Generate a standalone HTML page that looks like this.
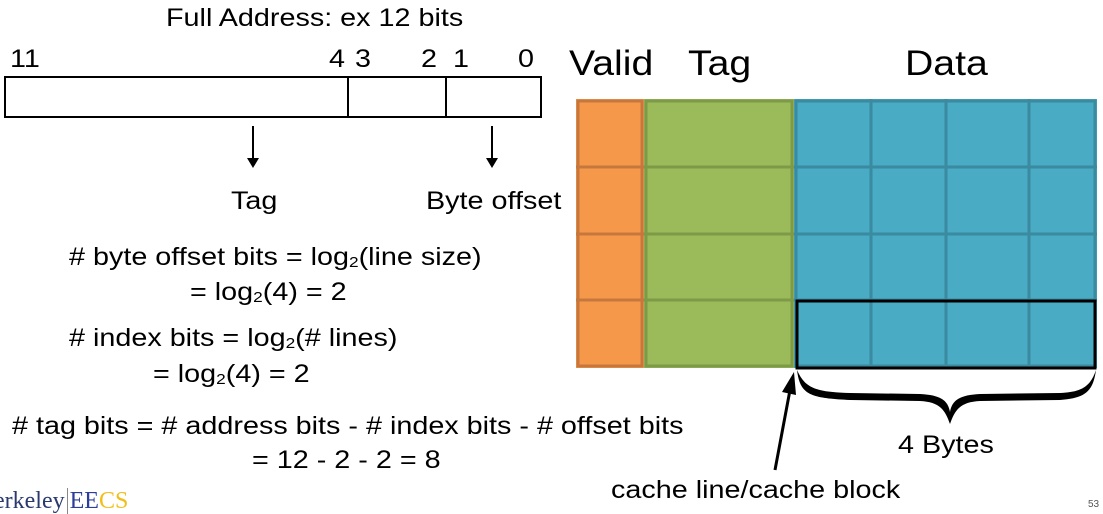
<!DOCTYPE html>
<html><head><meta charset="utf-8"><style>
body{margin:0;width:1103px;height:514px;background:#fff;position:relative;overflow:hidden;font-family:"Liberation Sans",sans-serif;color:#000}
.t{position:absolute;white-space:nowrap;font-size:25px;line-height:1;transform:scaleX(1.15);transform-origin:0 0}
sub{font-size:15px;vertical-align:-2px}
</style></head><body>
<svg width="1103" height="514" style="position:absolute;left:0;top:0">
<rect x="5" y="77" width="536" height="40" fill="none" stroke="#000" stroke-width="2"/>
<line x1="348" y1="77" x2="348" y2="117" stroke="#000" stroke-width="2"/>
<line x1="446" y1="77" x2="446" y2="117" stroke="#000" stroke-width="2"/>
<line x1="253" y1="126" x2="253" y2="160" stroke="#000" stroke-width="2"/>
<polygon points="247,158 259,158 253,168" fill="#000"/>
<line x1="492" y1="126" x2="492" y2="160" stroke="#000" stroke-width="2"/>
<polygon points="486,158 498,158 492,168" fill="#000"/>
<g stroke-width="3">
<rect x="576" y="99" width="68" height="269" fill="#f59849"/>
<rect x="644" y="99" width="150" height="269" fill="#9bba5a"/>
<rect x="794" y="99" width="303" height="269" fill="#4aabc5"/>
<g stroke="#c5773e"><rect x="578" y="101" width="64" height="265" fill="none"/>
<line x1="576" y1="167" x2="644" y2="167"/><line x1="576" y1="234" x2="644" y2="234"/><line x1="576" y1="300" x2="644" y2="300"/></g>
<g stroke="#7c9a47"><rect x="646" y="101" width="146" height="265" fill="none"/>
<line x1="644" y1="167" x2="794" y2="167"/><line x1="644" y1="234" x2="794" y2="234"/><line x1="644" y1="300" x2="794" y2="300"/></g>
<g stroke="#3a8aa0"><rect x="796" y="101" width="299" height="265" fill="none"/>
<line x1="794" y1="167" x2="1097" y2="167"/><line x1="794" y1="234" x2="1097" y2="234"/><line x1="794" y1="300" x2="1097" y2="300"/>
<line x1="871" y1="99" x2="871" y2="368"/><line x1="946" y1="99" x2="946" y2="368"/><line x1="1029" y1="99" x2="1029" y2="368"/></g>
<rect x="797" y="301" width="298" height="67" fill="none" stroke="#000"/>
</g>
<path d="M797,370 C800,395 810,398 850,400 L920,401 C940,402 945,410 950,424 C955,410 960,402 980,401 L1060,400 C1085,398 1093,392 1096,370 C1090,388 1080,392 1060,393 L980,394 C960,395 952,400 950,412 C948,400 940,395 920,394 L850,393 C815,392 805,388 797,370Z" fill="#000"/>
<line x1="775" y1="470" x2="790" y2="390" stroke="#000" stroke-width="3"/>
<polygon points="782,392 796,395 794,372" fill="#000"/>
</svg>
<div class="t" style="left:166px;top:6px">Full Address: ex 12 bits</div>
<div class="t" style="left:10px;top:47px">11</div>
<div class="t" style="left:329px;top:47px">4</div>
<div class="t" style="left:355px;top:47px">3</div>
<div class="t" style="left:421px;top:47px">2</div>
<div class="t" style="left:453px;top:47px">1</div>
<div class="t" style="left:518px;top:47px">0</div>
<div class="t" style="left:569px;top:46px;font-size:35px;transform:scaleX(1.12)">Valid</div>
<div class="t" style="left:688px;top:46px;font-size:35px;transform:scaleX(1.12)">Tag</div>
<div class="t" style="left:905px;top:46px;font-size:35px;transform:scaleX(1.12)">Data</div>
<div class="t" style="left:231px;top:189px">Tag</div>
<div class="t" style="left:426px;top:189px">Byte offset</div>
<div class="t" style="left:69px;top:245px">#  byte offset bits = log<sub>2</sub>(line size)</div>
<div class="t" style="left:190px;top:280px">= log<sub>2</sub>(4) = 2</div>
<div class="t" style="left:69px;top:326px">#  index bits = log<sub>2</sub>(# lines)</div>
<div class="t" style="left:153px;top:362px">= log<sub>2</sub>(4) = 2</div>
<div class="t" style="left:12px;top:414px"># tag bits = # address bits - # index bits - # offset bits</div>
<div class="t" style="left:252px;top:448px">= 12 - 2 - 2 = 8</div>
<div class="t" style="left:898px;top:433px">4 Bytes</div>
<div class="t" style="left:611px;top:478px">cache line/cache block</div>
<div class="t" style="left:-6px;top:489px;font-family:'Liberation Serif',serif;font-size:24px;transform:none;color:#2b3a6e">erkeley<span style="border-left:1px solid #888;margin-left:2px;padding-left:2px;color:#2e3d9a">EE</span><span style="color:#f2be1a">CS</span></div>
<div class="t" style="left:1088px;top:500px;font-size:10px;transform:none;color:#555">53</div>
</body></html>
